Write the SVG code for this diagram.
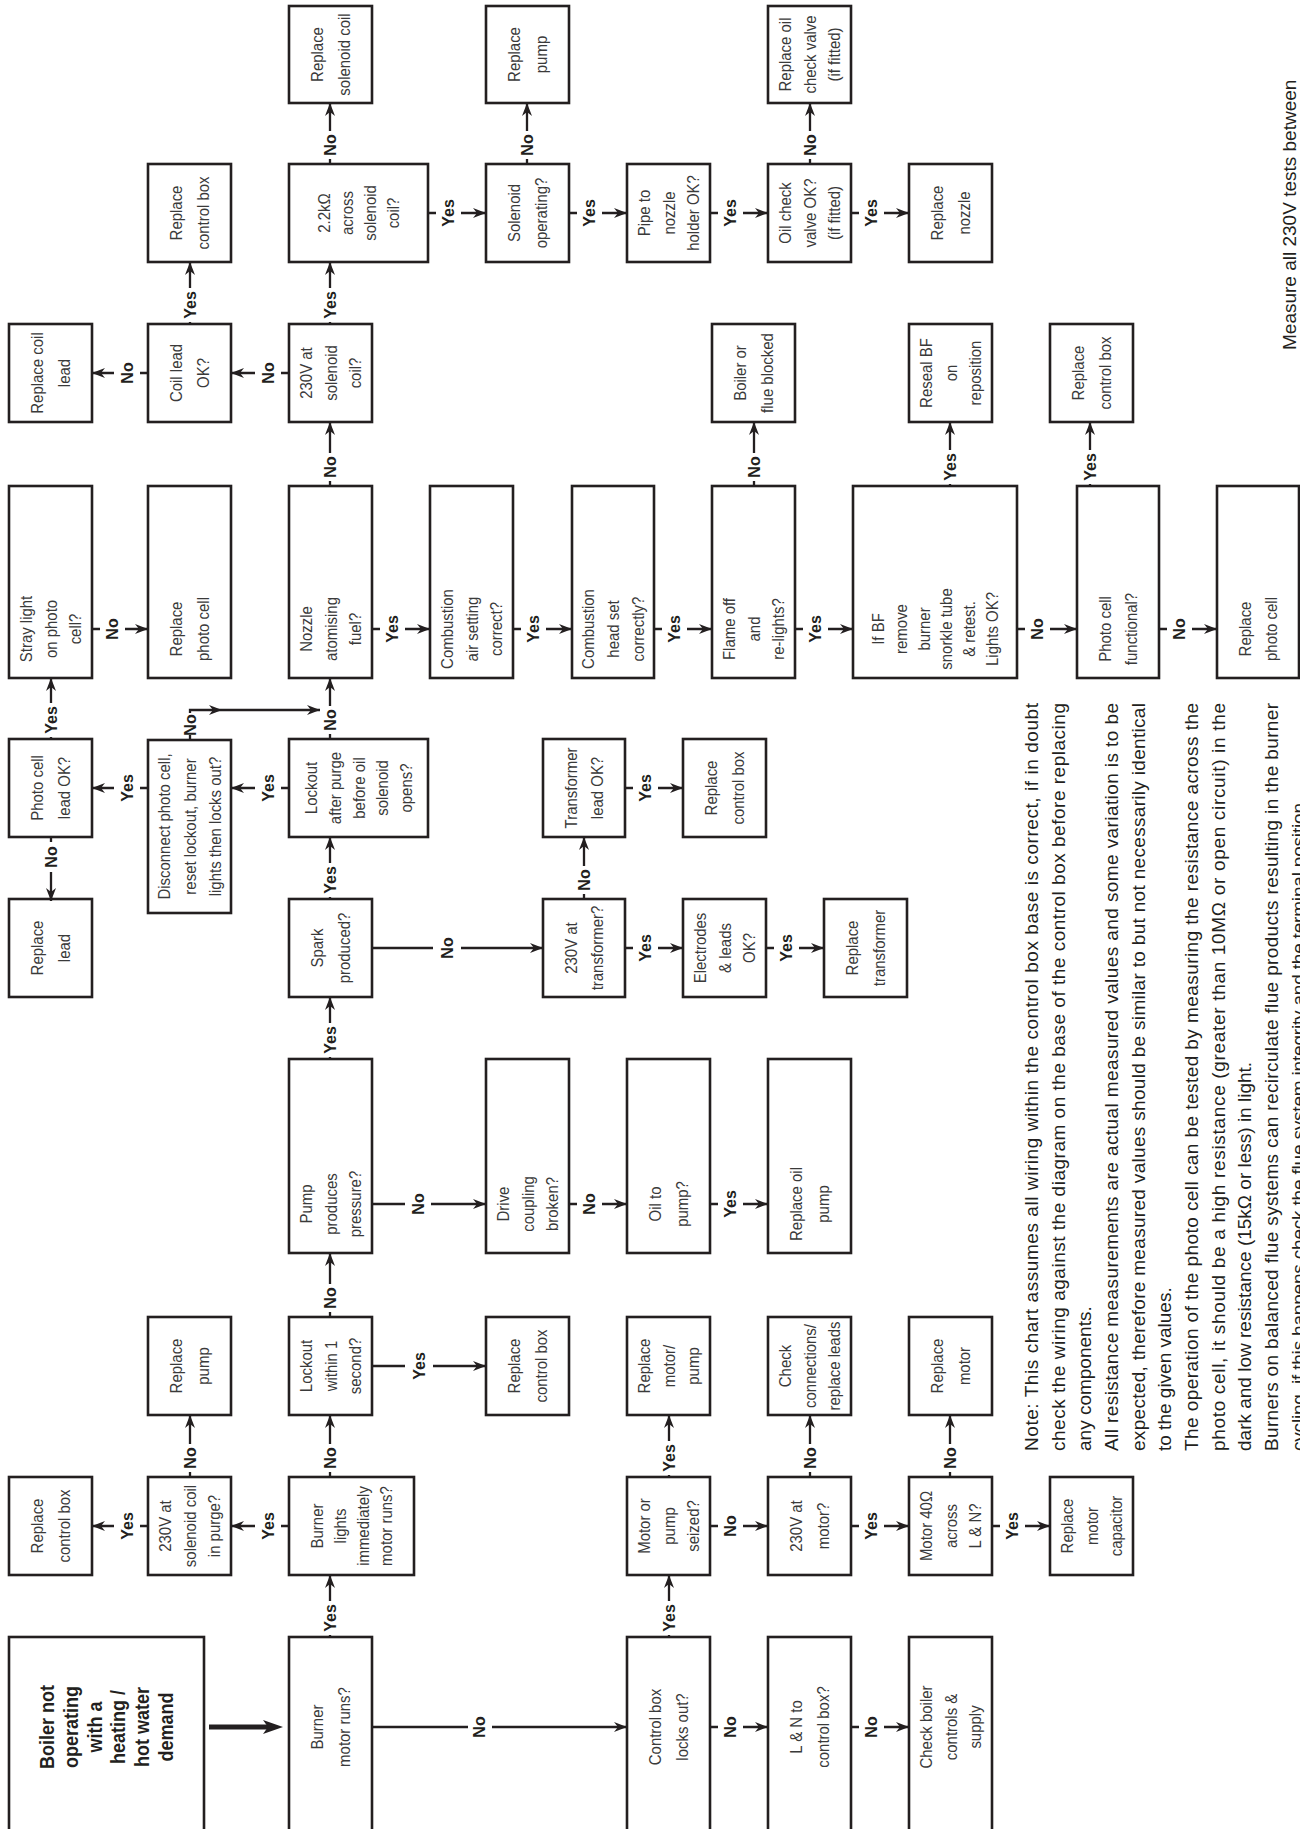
<svg xmlns="http://www.w3.org/2000/svg" width="1300" height="1829" viewBox="0 0 1300 1829">
<defs>
<style>
.bx rect{fill:#fff;stroke:#231f20;stroke-width:2.6}
.tx{font-family:"Liberation Sans",Arial,sans-serif;font-size:17px;fill:#3a3a3a;text-anchor:middle}
.txb{font-family:"Liberation Sans",Arial,sans-serif;font-size:20px;font-weight:bold;fill:#231f20;text-anchor:middle}
.lb{font-family:"Liberation Sans",Arial,sans-serif;font-size:16px;font-weight:bold;fill:#231f20;text-anchor:middle}
.cn path{fill:none;stroke:#231f20;stroke-width:2.3;marker-end:url(#ah)}
.nt{font-family:"Liberation Sans",Arial,sans-serif;font-size:19px;fill:#231f20}
</style>
<marker id="ah" viewBox="-14 -6 15 12" refX="0" refY="0" markerWidth="15" markerHeight="12" markerUnits="userSpaceOnUse" orient="auto"><path d="M0,0 L-13,-5 L-9,0 L-13,5 Z" fill="#231f20"/></marker>
</defs>
<rect width="1300" height="1829" fill="#fff"/>
<g transform="translate(0,1829) rotate(-90)">
<g id="nodes" class="bx">
<g id="n_rsc"><rect x="1726" y="289" width="97" height="83"/><text class="tx" transform="translate(1774.5,330.5) scale(0.88,1)"><tspan x="0" y="-7.5">Replace</tspan><tspan x="0" y="19.5">solenoid coil</tspan></text></g>
<g id="n_rpump1"><rect x="1726" y="486" width="97" height="83"/><text class="tx" transform="translate(1774.5,527.5) scale(0.88,1)"><tspan x="0" y="-7.5">Replace</tspan><tspan x="0" y="19.5">pump</tspan></text></g>
<g id="n_rocv"><rect x="1726" y="768" width="97" height="83"/><text class="tx" transform="translate(1774.5,809.5) scale(0.88,1)"><tspan x="0" y="-19">Replace oil</tspan><tspan x="0" y="6">check valve</tspan><tspan x="0" y="31">(if fitted)</tspan></text></g>

<g id="n_rcb1"><rect x="1567" y="148" width="98" height="83"/><text class="tx" transform="translate(1616,189.5) scale(0.88,1)"><tspan x="0" y="-7.5">Replace</tspan><tspan x="0" y="19.5">control box</tspan></text></g>
<g id="n_22k"><rect x="1567" y="289" width="98" height="139"/><text class="tx" transform="translate(1616,358.5) scale(0.88,1)"><tspan x="0" y="-28.5">2.2kΩ</tspan><tspan x="0" y="-5.5">across</tspan><tspan x="0" y="17.5">solenoid</tspan><tspan x="0" y="40.5">coil?</tspan></text></g>
<g id="n_solop"><rect x="1567" y="486" width="98" height="83"/><text class="tx" transform="translate(1616,527.5) scale(0.88,1)"><tspan x="0" y="-7.5">Solenoid</tspan><tspan x="0" y="19.5">operating?</tspan></text></g>
<g id="n_pipe"><rect x="1567" y="627" width="98" height="83"/><text class="tx" transform="translate(1616,668.5) scale(0.88,1)"><tspan x="0" y="-19">Pipe to</tspan><tspan x="0" y="6">nozzle</tspan><tspan x="0" y="31">holder OK?</tspan></text></g>
<g id="n_ocv"><rect x="1567" y="768" width="98" height="83"/><text class="tx" transform="translate(1616,809.5) scale(0.88,1)"><tspan x="0" y="-19">Oil check</tspan><tspan x="0" y="6">valve OK?</tspan><tspan x="0" y="31">(if fitted)</tspan></text></g>
<g id="n_rnoz"><rect x="1567" y="909" width="98" height="83"/><text class="tx" transform="translate(1616,950.5) scale(0.88,1)"><tspan x="0" y="-7.5">Replace</tspan><tspan x="0" y="19.5">nozzle</tspan></text></g>

<g id="n_rcl"><rect x="1407" y="9" width="98" height="83"/><text class="tx" transform="translate(1456,50.5) scale(0.88,1)"><tspan x="0" y="-7.5">Replace coil</tspan><tspan x="0" y="19.5">lead</tspan></text></g>
<g id="n_cl"><rect x="1407" y="148" width="98" height="83"/><text class="tx" transform="translate(1456,189.5) scale(0.88,1)"><tspan x="0" y="-7.5">Coil lead</tspan><tspan x="0" y="19.5">OK?</tspan></text></g>
<g id="n_230sc"><rect x="1407" y="289" width="98" height="83"/><text class="tx" transform="translate(1456,330.5) scale(0.88,1)"><tspan x="0" y="-19">230V at</tspan><tspan x="0" y="6">solenoid</tspan><tspan x="0" y="31">coil?</tspan></text></g>
<g id="n_bfb"><rect x="1407" y="712" width="98" height="83"/><text class="tx" transform="translate(1456,753.5) scale(0.88,1)"><tspan x="0" y="-7.5">Boiler or</tspan><tspan x="0" y="19.5">flue blocked</tspan></text></g>
<g id="n_reseal"><rect x="1407" y="909" width="98" height="83"/><text class="tx" transform="translate(1456,950.5) scale(0.88,1)"><tspan x="0" y="-19">Reseal BF</tspan><tspan x="0" y="6">on</tspan><tspan x="0" y="31">reposition</tspan></text></g>
<g id="n_rcb2"><rect x="1407" y="1050" width="98" height="83"/><text class="tx" transform="translate(1456,1091.5) scale(0.88,1)"><tspan x="0" y="-7.5">Replace</tspan><tspan x="0" y="19.5">control box</tspan></text></g>

<g id="n_stray"><rect x="1151" y="9" width="192" height="83"/><text class="tx" transform="translate(1200,50.5) scale(0.88,1)"><tspan x="0" y="-19">Stray light</tspan><tspan x="0" y="6">on photo</tspan><tspan x="0" y="31">cell?</tspan></text></g>
<g id="n_rpc1"><rect x="1151" y="148" width="192" height="83"/><text class="tx" transform="translate(1200,189.5) scale(0.88,1)"><tspan x="0" y="-7.5">Replace</tspan><tspan x="0" y="19.5">photo cell</tspan></text></g>
<g id="n_noz"><rect x="1151" y="289" width="192" height="83"/><text class="tx" transform="translate(1200,330.5) scale(0.88,1)"><tspan x="0" y="-19">Nozzle</tspan><tspan x="0" y="6">atomising</tspan><tspan x="0" y="31">fuel?</tspan></text></g>
<g id="n_cas"><rect x="1151" y="430" width="192" height="83"/><text class="tx" transform="translate(1200,471.5) scale(0.88,1)"><tspan x="0" y="-19">Combustion</tspan><tspan x="0" y="6">air setting</tspan><tspan x="0" y="31">correct?</tspan></text></g>
<g id="n_chs"><rect x="1151" y="572" width="192" height="82"/><text class="tx" transform="translate(1200,613) scale(0.88,1)"><tspan x="0" y="-19">Combustion</tspan><tspan x="0" y="6">head set</tspan><tspan x="0" y="31">correctly?</tspan></text></g>
<g id="n_flame"><rect x="1151" y="712" width="192" height="83"/><text class="tx" transform="translate(1200,753.5) scale(0.88,1)"><tspan x="0" y="-19">Flame off</tspan><tspan x="0" y="6">and</tspan><tspan x="0" y="31">re-lights?</tspan></text></g>
<g id="n_ifbf"><rect x="1151" y="853" width="192" height="164"/><text class="tx" transform="translate(1200,935) scale(0.88,1)"><tspan x="0" y="-51.5">If BF</tspan><tspan x="0" y="-28.5">remove</tspan><tspan x="0" y="-5.5">burner</tspan><tspan x="0" y="17.5">snorkle tube</tspan><tspan x="0" y="40.5">&amp; retest.</tspan><tspan x="0" y="63.5">Lights OK?</tspan></text></g>
<g id="n_pcf"><rect x="1151" y="1077" width="192" height="82"/><text class="tx" transform="translate(1200,1118) scale(0.88,1)"><tspan x="0" y="-7.5">Photo cell</tspan><tspan x="0" y="19.5">functional?</tspan></text></g>
<g id="n_rpc2"><rect x="1151" y="1217" width="192" height="82"/><text class="tx" transform="translate(1200,1258) scale(0.88,1)"><tspan x="0" y="-7.5">Replace</tspan><tspan x="0" y="19.5">photo cell</tspan></text></g>

<g id="n_pcl"><rect x="992" y="9" width="98" height="83"/><text class="tx" transform="translate(1041,50.5) scale(0.88,1)"><tspan x="0" y="-7.5">Photo cell</tspan><tspan x="0" y="19.5">lead OK?</tspan></text></g>
<g id="n_disc"><rect x="916" y="148" width="173" height="83"/><text class="tx" transform="translate(1002.5,189.5) scale(0.88,1)"><tspan x="0" y="-20">Disconnect photo cell,</tspan><tspan x="0" y="6">reset lockout, burner</tspan><tspan x="0" y="32">lights then locks out?</tspan></text></g>
<g id="n_lap"><rect x="992" y="289" width="98" height="139"/><text class="tx" transform="translate(1041,358.5) scale(0.88,1)"><tspan x="0" y="-42">Lockout</tspan><tspan x="0" y="-18">after purge</tspan><tspan x="0" y="6">before oil</tspan><tspan x="0" y="30">solenoid</tspan><tspan x="0" y="54">opens?</tspan></text></g>
<g id="n_tl"><rect x="992" y="543" width="98" height="82"/><text class="tx" transform="translate(1041,584) scale(0.88,1)"><tspan x="0" y="-7.5">Transformer</tspan><tspan x="0" y="19.5">lead OK?</tspan></text></g>
<g id="n_rcb3"><rect x="992" y="683" width="98" height="83"/><text class="tx" transform="translate(1041,724.5) scale(0.88,1)"><tspan x="0" y="-7.5">Replace</tspan><tspan x="0" y="19.5">control box</tspan></text></g>

<g id="n_rlead"><rect x="832" y="9" width="98" height="83"/><text class="tx" transform="translate(881,50.5) scale(0.88,1)"><tspan x="0" y="-7.5">Replace</tspan><tspan x="0" y="19.5">lead</tspan></text></g>
<g id="n_spark"><rect x="832" y="289" width="98" height="83"/><text class="tx" transform="translate(881,330.5) scale(0.88,1)"><tspan x="0" y="-7.5">Spark</tspan><tspan x="0" y="19.5">produced?</tspan></text></g>
<g id="n_230t"><rect x="832" y="543" width="98" height="82"/><text class="tx" transform="translate(881,584) scale(0.88,1)"><tspan x="0" y="-7.5">230V at</tspan><tspan x="0" y="19.5">transformer?</tspan></text></g>
<g id="n_elec"><rect x="832" y="683" width="98" height="83"/><text class="tx" transform="translate(881,724.5) scale(0.88,1)"><tspan x="0" y="-19">Electrodes</tspan><tspan x="0" y="6">&amp; leads</tspan><tspan x="0" y="31">OK?</tspan></text></g>
<g id="n_rtr"><rect x="832" y="824" width="98" height="83"/><text class="tx" transform="translate(881,865.5) scale(0.88,1)"><tspan x="0" y="-7.5">Replace</tspan><tspan x="0" y="19.5">transformer</tspan></text></g>

<g id="n_pump"><rect x="576" y="289" width="194" height="83"/><text class="tx" transform="translate(625,330.5) scale(0.88,1)"><tspan x="0" y="-19">Pump</tspan><tspan x="0" y="6">produces</tspan><tspan x="0" y="31">pressure?</tspan></text></g>
<g id="n_drive"><rect x="576" y="486" width="194" height="83"/><text class="tx" transform="translate(625,527.5) scale(0.88,1)"><tspan x="0" y="-19">Drive</tspan><tspan x="0" y="6">coupling</tspan><tspan x="0" y="31">broken?</tspan></text></g>
<g id="n_oil"><rect x="576" y="627" width="194" height="83"/><text class="tx" transform="translate(625,668.5) scale(0.88,1)"><tspan x="0" y="-7.5">Oil to</tspan><tspan x="0" y="19.5">pump?</tspan></text></g>
<g id="n_rop"><rect x="576" y="768" width="194" height="83"/><text class="tx" transform="translate(625,809.5) scale(0.88,1)"><tspan x="0" y="-7.5">Replace oil</tspan><tspan x="0" y="19.5">pump</tspan></text></g>

<g id="n_rpump2"><rect x="414" y="148" width="98" height="83"/><text class="tx" transform="translate(463,189.5) scale(0.88,1)"><tspan x="0" y="-7.5">Replace</tspan><tspan x="0" y="19.5">pump</tspan></text></g>
<g id="n_l1s"><rect x="414" y="289" width="98" height="83"/><text class="tx" transform="translate(463,330.5) scale(0.88,1)"><tspan x="0" y="-19">Lockout</tspan><tspan x="0" y="6">within 1</tspan><tspan x="0" y="31">second?</tspan></text></g>
<g id="n_rcb4"><rect x="414" y="486" width="98" height="83"/><text class="tx" transform="translate(463,527.5) scale(0.88,1)"><tspan x="0" y="-7.5">Replace</tspan><tspan x="0" y="19.5">control box</tspan></text></g>
<g id="n_rmp"><rect x="414" y="627" width="98" height="83"/><text class="tx" transform="translate(463,668.5) scale(0.88,1)"><tspan x="0" y="-19">Replace</tspan><tspan x="0" y="6">motor/</tspan><tspan x="0" y="31">pump</tspan></text></g>
<g id="n_cc"><rect x="414" y="768" width="98" height="83"/><text class="tx" transform="translate(463,809.5) scale(0.88,1)"><tspan x="0" y="-19">Check</tspan><tspan x="0" y="6">connections/</tspan><tspan x="0" y="31">replace leads</tspan></text></g>
<g id="n_rm"><rect x="414" y="909" width="98" height="83"/><text class="tx" transform="translate(463,950.5) scale(0.88,1)"><tspan x="0" y="-7.5">Replace</tspan><tspan x="0" y="19.5">motor</tspan></text></g>

<g id="n_rcb5"><rect x="254" y="9" width="98" height="83"/><text class="tx" transform="translate(303,50.5) scale(0.88,1)"><tspan x="0" y="-7.5">Replace</tspan><tspan x="0" y="19.5">control box</tspan></text></g>
<g id="n_230p"><rect x="254" y="148" width="98" height="83"/><text class="tx" transform="translate(303,189.5) scale(0.88,1)"><tspan x="0" y="-19">230V at</tspan><tspan x="0" y="6">solenoid coil</tspan><tspan x="0" y="31">in purge?</tspan></text></g>
<g id="n_bli"><rect x="254" y="289" width="98" height="125"/><text class="tx" transform="translate(303,351.5) scale(0.88,1)"><tspan x="0" y="-28.5">Burner</tspan><tspan x="0" y="-5.5">lights</tspan><tspan x="0" y="17.5">immediately</tspan><tspan x="0" y="40.5">motor runs?</tspan></text></g>
<g id="n_mps"><rect x="254" y="627" width="98" height="83"/><text class="tx" transform="translate(303,668.5) scale(0.88,1)"><tspan x="0" y="-19">Motor or</tspan><tspan x="0" y="6">pump</tspan><tspan x="0" y="31">seized?</tspan></text></g>
<g id="n_230m"><rect x="254" y="768" width="98" height="83"/><text class="tx" transform="translate(303,809.5) scale(0.88,1)"><tspan x="0" y="-7.5">230V at</tspan><tspan x="0" y="19.5">motor?</tspan></text></g>
<g id="n_m40"><rect x="254" y="909" width="98" height="83"/><text class="tx" transform="translate(303,950.5) scale(0.88,1)"><tspan x="0" y="-19">Motor 40Ω</tspan><tspan x="0" y="6">across</tspan><tspan x="0" y="31">L &amp; N?</tspan></text></g>
<g id="n_rmc"><rect x="254" y="1050" width="98" height="83"/><text class="tx" transform="translate(303,1091.5) scale(0.88,1)"><tspan x="0" y="-19">Replace</tspan><tspan x="0" y="6">motor</tspan><tspan x="0" y="31">capacitor</tspan></text></g>

<g id="n_boiler"><rect x="-20" y="9" width="212" height="195"/><text class="txb" transform="translate(102,106.5) scale(0.9,1)"><tspan x="0" y="-53">Boiler not</tspan><tspan x="0" y="-29">operating</tspan><tspan x="0" y="-5">with a</tspan><tspan x="0" y="19">heating /</tspan><tspan x="0" y="43">hot water</tspan><tspan x="0" y="67">demand</tspan></text></g>
<g id="n_bmr"><rect x="-20" y="289" width="212" height="83"/><text class="tx" transform="translate(102,330.5) scale(0.88,1)"><tspan x="0" y="-7.5">Burner</tspan><tspan x="0" y="19.5">motor runs?</tspan></text></g>
<g id="n_cblo"><rect x="-20" y="627" width="212" height="83"/><text class="tx" transform="translate(102,668.5) scale(0.88,1)"><tspan x="0" y="-7.5">Control box</tspan><tspan x="0" y="19.5">locks out?</tspan></text></g>
<g id="n_ln"><rect x="-20" y="768" width="212" height="83"/><text class="tx" transform="translate(102,809.5) scale(0.88,1)"><tspan x="0" y="-7.5">L &amp; N to</tspan><tspan x="0" y="19.5">control box?</tspan></text></g>
<g id="n_cbc"><rect x="-20" y="909" width="212" height="83"/><text class="tx" transform="translate(102,950.5) scale(0.88,1)"><tspan x="0" y="-19">Check boiler</tspan><tspan x="0" y="6">controls &amp;</tspan><tspan x="0" y="31">supply</tspan></text></g>
</g>

<g id="connectors" class="cn">
<path d="M102,209V270" style="stroke-width:5;marker-end:none"/>
<polygon points="102,283 95,263 102,268 109,263" fill="#231f20"/>
<path d="M192,330H194M228,330H254"/>
<path d="M352,330H357M385,330H414"/>
<path d="M352,190H357M385,190H414"/>
<path d="M512,330H517M545,330H576"/>
<path d="M770,330H772M806,330H832"/>
<path d="M930,330H932M966,330H992"/>
<path d="M1090,330H1095M1123,330H1151"/>
<path d="M1343,330H1348M1376,330H1407"/>
<path d="M1505,330H1507M1541,330H1567"/>
<path d="M1665,330H1670M1698,330H1726"/>
<path d="M1505,190H1507M1541,190H1567"/>
<path d="M1665,527H1670M1698,527H1726"/>
<path d="M1665,810H1670M1698,810H1726"/>
<path d="M1343,754H1348M1376,754H1407"/>
<path d="M1343,950H1345M1379,950H1407"/>
<path d="M1343,1090H1345M1379,1090H1407"/>
<path d="M1090,51H1092M1126,51H1151"/>
<path d="M930,584H935M963,584H992"/>
<path d="M192,669H194M228,669H254"/>
<path d="M352,669H354M388,669H414"/>
<path d="M352,810H357M385,810H414"/>
<path d="M352,950H357M385,950H414"/>
<path d="M1089,190H1094M1116,190H1119V222"/>
<path d="M1119,222V320"/>
<path d="M992,51H987M957,51H928"/>
<path d="M102,372V468M102,492V627"/>
<path d="M102,710V718M102,743V768"/>
<path d="M102,851V859M102,884V909"/>
<path d="M303,710V718M303,743V768"/>
<path d="M303,851V859M303,884V909"/>
<path d="M303,992V1000M303,1025V1050"/>
<path d="M463,372V405M463,433V486"/>
<path d="M625,372V405M625,431V486"/>
<path d="M625,569V577M625,602V627"/>
<path d="M625,710V718M625,743V768"/>
<path d="M881,372V433M881,461V543"/>
<path d="M881,625V633M881,658V683"/>
<path d="M881,766V774M881,799V824"/>
<path d="M1041,625V633M1041,658V683"/>
<path d="M1200,372V380M1200,405V430"/>
<path d="M1200,513V521M1200,546V572"/>
<path d="M1200,654V662M1200,687V712"/>
<path d="M1200,795V803M1200,828V853"/>
<path d="M1200,1017V1025M1200,1050V1077"/>
<path d="M1200,1159V1167M1200,1192V1217"/>
<path d="M1200,92V100M1200,125V148"/>
<path d="M1616,428V436M1616,461V486"/>
<path d="M1616,569V577M1616,602V627"/>
<path d="M1616,710V718M1616,743V768"/>
<path d="M1616,851V859M1616,884V909"/>
<path d="M303,289V281M303,255V231"/>
<path d="M303,148V140M303,114V92"/>
<path d="M1041,289V281M1041,255V231"/>
<path d="M1041,148V140M1041,114V92"/>
<path d="M1456,289V281M1456,255V231"/>
<path d="M1456,148V140M1456,114V92"/>
<g id="labels">
<text class="lb" x="211" y="335.8">Yes</text>
<text class="lb" x="371" y="335.8">No</text>
<text class="lb" x="371" y="195.8">No</text>
<text class="lb" x="531" y="335.8">No</text>
<text class="lb" x="789" y="335.8">Yes</text>
<text class="lb" x="949" y="335.8">Yes</text>
<text class="lb" x="1109" y="335.8">No</text>
<text class="lb" x="1362" y="335.8">No</text>
<text class="lb" x="1524" y="335.8">Yes</text>
<text class="lb" x="1684" y="335.8">No</text>
<text class="lb" x="1524" y="195.8">Yes</text>
<text class="lb" x="1684" y="532.8">No</text>
<text class="lb" x="1684" y="815.8">No</text>
<text class="lb" x="1362" y="759.8">No</text>
<text class="lb" x="1362" y="955.8">Yes</text>
<text class="lb" x="1362" y="1095.8">Yes</text>
<text class="lb" x="1109" y="56.8">Yes</text>
<text class="lb" x="949" y="589.8">No</text>
<text class="lb" x="211" y="674.8">Yes</text>
<text class="lb" x="371" y="674.8">Yes</text>
<text class="lb" x="371" y="815.8">No</text>
<text class="lb" x="371" y="955.8">No</text>
<text class="lb" x="1104" y="195.8">No</text>
<text class="lb" x="972" y="56.8">No</text>
<text class="lb" x="102" y="484.8">No</text>
<text class="lb" x="102" y="735.8">No</text>
<text class="lb" x="102" y="876.8">No</text>
<text class="lb" x="303" y="735.8">No</text>
<text class="lb" x="303" y="876.8">Yes</text>
<text class="lb" x="303" y="1017.8">Yes</text>
<text class="lb" x="463" y="424.8">Yes</text>
<text class="lb" x="625" y="423.8">No</text>
<text class="lb" x="625" y="594.8">No</text>
<text class="lb" x="625" y="735.8">Yes</text>
<text class="lb" x="881" y="452.8">No</text>
<text class="lb" x="881" y="650.8">Yes</text>
<text class="lb" x="881" y="791.8">Yes</text>
<text class="lb" x="1041" y="650.8">Yes</text>
<text class="lb" x="1200" y="397.8">Yes</text>
<text class="lb" x="1200" y="538.8">Yes</text>
<text class="lb" x="1200" y="679.8">Yes</text>
<text class="lb" x="1200" y="820.8">Yes</text>
<text class="lb" x="1200" y="1042.8">No</text>
<text class="lb" x="1200" y="1184.8">No</text>
<text class="lb" x="1200" y="117.8">No</text>
<text class="lb" x="1616" y="453.8">Yes</text>
<text class="lb" x="1616" y="594.8">Yes</text>
<text class="lb" x="1616" y="735.8">Yes</text>
<text class="lb" x="1616" y="876.8">Yes</text>
<text class="lb" x="303" y="273.8">Yes</text>
<text class="lb" x="303" y="132.8">Yes</text>
<text class="lb" x="1041" y="273.8">Yes</text>
<text class="lb" x="1041" y="132.8">Yes</text>
<text class="lb" x="1456" y="273.8">No</text>
<text class="lb" x="1456" y="132.8">No</text>
</g>
</g>

<g id="notes" class="nt">
<text x="378" y="1038" textLength="748" lengthAdjust="spacing">Note: This chart assumes all wiring within the control box base is correct, if in doubt</text>
<text x="378" y="1065" textLength="748" lengthAdjust="spacing">check the wiring against the diagram on the base of the control box before replacing</text>
<text x="378" y="1091">any components.</text>
<text x="378" y="1118" textLength="748" lengthAdjust="spacing">All resistance measurements are actual measured values and some variation is to be</text>
<text x="378" y="1145" textLength="748" lengthAdjust="spacing">expected, therefore measured values should be similar to but not necessarily identical</text>
<text x="378" y="1171">to the given values.</text>
<text x="378" y="1198" textLength="748" lengthAdjust="spacing">The operation of the photo cell can be tested by measuring the resistance across the</text>
<text x="378" y="1225" textLength="748" lengthAdjust="spacing">photo cell, it should be a high resistance (greater than 10MΩ or open circuit) in the</text>
<text x="378" y="1251">dark and low resistance (15kΩ or less) in light.</text>
<text x="378" y="1278" textLength="748" lengthAdjust="spacing">Burners on balanced flue systems can recirculate flue products resulting in the burner</text>
<text x="378" y="1305" textLength="648" lengthAdjust="spacing">cycling, if this happens check the flue system integrity and the terminal position</text>
<text x="1479" y="1296">Measure all 230V tests between</text>
</g>
</g>
</svg>
